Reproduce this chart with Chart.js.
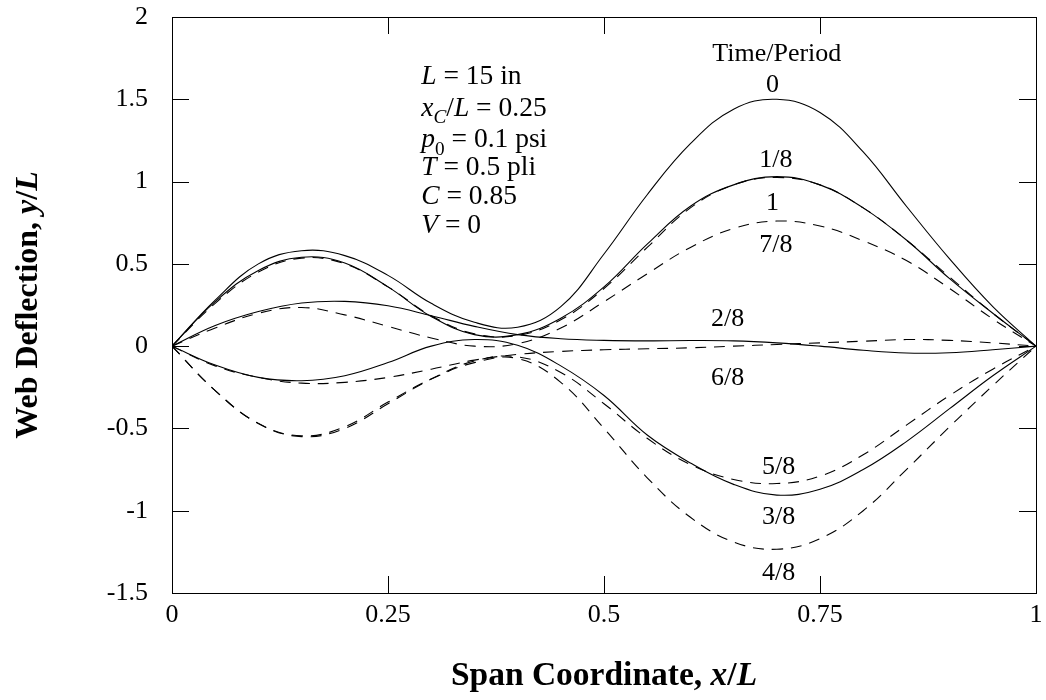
<!DOCTYPE html>
<html><head><meta charset="utf-8">
<script src="https://cdn.jsdelivr.net/npm/chart.js@4.4.1/dist/chart.umd.min.js"></script>
<style>html,body{margin:0;padding:0;background:#fff;}#wrap{width:1046px;height:700px;}</style>
</head><body><div id="wrap"><canvas id="c" width="1046" height="700"></canvas></div>
<script>
// ---- data ----
const spanX = [0,0.05,0.1,0.15,0.2,0.25,0.3,0.35,0.4,0.45,0.5,0.55,0.6,0.65,0.7,0.75,0.8,0.85,0.9,0.95,1];
const defl_0   = [0,0.28,0.50,0.58,0.55,0.43,0.26,0.145,0.115,0.24,0.56,0.92,1.23,1.44,1.50,1.42,1.18,0.85,0.53,0.24,0];
const defl_1_8 = [0,0.27,0.46,0.54,0.505,0.36,0.18,0.07,0.07,0.17,0.36,0.62,0.85,0.98,1.03,0.98,0.84,0.645,0.41,0.2,0];
const defl_2_8 = [0,0.125,0.21,0.262,0.272,0.245,0.185,0.12,0.07,0.045,0.035,0.032,0.034,0.032,0.02,0.0,-0.025,-0.042,-0.04,-0.022,0];
const defl_3_8 = [0,-0.115,-0.19,-0.21,-0.18,-0.1,0.0,0.04,0.005,-0.12,-0.3,-0.54,-0.71,-0.84,-0.905,-0.87,-0.75,-0.58,-0.38,-0.18,0];
const defl_4_8 = [0,-0.27,-0.47,-0.545,-0.49,-0.34,-0.2,-0.1,-0.075,-0.22,-0.5,-0.8,-1.04,-1.19,-1.234,-1.17,-1.0,-0.75,-0.49,-0.24,0];
const defl_5_8 = [0,-0.27,-0.47,-0.55,-0.5,-0.35,-0.2,-0.09,-0.065,-0.16,-0.35,-0.56,-0.72,-0.81,-0.835,-0.79,-0.66,-0.48,-0.3,-0.14,0];
const defl_6_8 = [0,-0.12,-0.19,-0.225,-0.22,-0.19,-0.14,-0.085,-0.05,-0.032,-0.022,-0.016,-0.01,0.0,0.01,0.02,0.03,0.04,0.035,0.02,0];
const defl_7_8 = [0,0.11,0.2,0.235,0.19,0.12,0.05,0.0,0.015,0.11,0.27,0.44,0.6,0.715,0.76,0.73,0.64,0.52,0.35,0.165,0];
const defl_1   = [0,0.26,0.45,0.535,0.5,0.36,0.185,0.075,0.065,0.16,0.35,0.6,0.84,0.98,1.025,0.98,0.84,0.645,0.42,0.2,0];
const timeLabels = ['0','1/8','2/8','3/8','4/8','5/8','6/8','7/8','1'];
const seriesValues = [defl_0,defl_1_8,defl_2_8,defl_3_8,defl_4_8,defl_5_8,defl_6_8,defl_7_8,defl_1];
const xTickValues = [0,0.25,0.5,0.75,1];
const xTickLabels = ['0','0.25','0.5','0.75','1'];
const yTickValues = [-1.5,-1,-0.5,0,0.5,1,1.5,2];
const yTickLabels = ['-1.5','-1','-0.5','0','0.5','1','1.5','2'];

// ---- presentation ----
const FONT = '"Liberation Serif", "Times New Roman", serif';
const dashedSet = new Set(['4/8','5/8','6/8','7/8','1']);
// curve label anchors in data units (centre x, baseline y)
const curveLabelPos = {
  'Time/Period':[0.70,1.734], '0':[0.695,1.544], '1/8':[0.699,1.089], '1':[0.695,0.830],
  '7/8':[0.699,0.572], '2/8':[0.643,0.121], '6/8':[0.643,-0.238],
  '5/8':[0.702,-0.774], '3/8':[0.702,-1.082], '4/8':[0.702,-1.422]
};
const infoLines = [
  [{t:'L',i:1},{t:' = 15 in'}],
  [{t:'x',i:1},{t:'C',i:1,sub:1},{t:'/'},{t:'L',i:1},{t:' = 0.25'}],
  [{t:'p',i:1},{t:'0',sub:1},{t:' = 0.1 psi'}],
  [{t:'T',i:1},{t:' = 0.5 pli'}],
  [{t:'C',i:1},{t:' = 0.85'}],
  [{t:'V',i:1},{t:' = 0'}]
];
const infoX = 0.2885;
const infoBase = [1.591,1.400,1.208,1.041,0.862,0.689];

function fontStr(size, italic, bold){ return (italic?'italic ':'')+(bold?'bold ':'')+size+'px '+FONT; }
function drawRich(ctx, parts, x, y, size, bold, align){
  let w = 0;
  const m = parts.map(p=>{ const s = p.sub? size*0.7 : size; ctx.font = fontStr(s,p.i,bold||p.b); const ww = ctx.measureText(p.t).width; w += ww; return {p,s,ww}; });
  let cx = align==='center' ? x - w/2 : x;
  ctx.textAlign = 'left'; ctx.textBaseline = 'alphabetic';
  m.forEach(o=>{ ctx.font = fontStr(o.s,o.p.i,bold||o.p.b); ctx.fillText(o.p.t, cx, y + (o.p.sub? size*0.27:0)); cx += o.ww; });
}

const decor = {
  id:'decor',
  afterDatasetsDraw(chart){
    const {ctx, chartArea:a, scales:{x,y}} = chart;
    ctx.save();
    ctx.strokeStyle = '#000'; ctx.lineWidth = 1;
    ctx.strokeRect(Math.round(a.left)+0.5, Math.round(a.top)+0.5, Math.round(a.right-a.left), Math.round(a.bottom-a.top));
    const TL = 17;
    ctx.beginPath();
    xTickValues.forEach(v=>{ const px = Math.round(x.getPixelForValue(v))+0.5;
      ctx.moveTo(px,a.bottom); ctx.lineTo(px,a.bottom-TL); ctx.moveTo(px,a.top); ctx.lineTo(px,a.top+TL); });
    yTickValues.forEach(v=>{ const py = Math.round(y.getPixelForValue(v))+0.5;
      ctx.moveTo(a.left,py); ctx.lineTo(a.left+TL,py); ctx.moveTo(a.right,py); ctx.lineTo(a.right-TL,py); });
    ctx.stroke();
    ctx.fillStyle = '#000';
    Object.keys(curveLabelPos).forEach(k=>{ const [vx,vy]=curveLabelPos[k];
      drawRich(ctx,[{t:k}], x.getPixelForValue(vx), y.getPixelForValue(vy), 26, false, 'center'); });
    infoLines.forEach((ln,i)=> drawRich(ctx, ln, x.getPixelForValue(infoX), y.getPixelForValue(infoBase[i]), 27.5, false, 'left'));
    drawRich(ctx,[{t:'Span Coordinate, '},{t:'x',i:1},{t:'/'},{t:'L',i:1}], (a.left+a.right)/2, 685, 33.5, true, 'center');
    ctx.translate(37,(a.top+a.bottom)/2); ctx.rotate(-Math.PI/2);
    drawRich(ctx,[{t:'Web Deflection, '},{t:'y',i:1},{t:'/'},{t:'L',i:1}], 0, 0, 32, true, 'center');
    ctx.restore();
  }
};

const datasets = timeLabels.map((lab,k)=>({
  label: lab,
  data: spanX.map((xv,i)=>({x:xv, y:seriesValues[k][i]})),
  borderColor:'#000', borderWidth:1.1, borderDash: dashedSet.has(lab)?[11,8]:[],
  pointRadius:0, pointHoverRadius:0, pointBorderWidth:0, pointHitRadius:0,
  tension:0.4, fill:false
}));

new Chart(document.getElementById('c'), {
  type:'line',
  data:{datasets},
  options:{
    responsive:false, animation:false, devicePixelRatio:1,
    layout:{padding:{top:17,right:10,left:0,bottom:0}},
    plugins:{legend:{display:false}, tooltip:{enabled:false}},
    events:[],
    scales:{
      x:{type:'linear', min:0, max:1,
        ticks:{stepSize:0.25, autoSkip:false, maxRotation:0, padding:7, color:'#000', font:{family:FONT,size:26},
          callback:(v)=>{const i=xTickValues.indexOf(v); return i>=0?xTickLabels[i]:'';}},
        grid:{display:false, drawTicks:false}, border:{display:false},
        afterFit(s){ s.height = 107; s.paddingLeft = 0; s.paddingRight = 0; s.paddingTop = 0; s.paddingBottom = 0; }},
      y:{type:'linear', min:-1.5, max:2,
        ticks:{stepSize:0.5, autoSkip:false, padding:24, color:'#000', font:{family:FONT,size:26},
          callback:(v)=>{const i=yTickValues.indexOf(v); return i>=0?yTickLabels[i]:'';}},
        grid:{display:false, drawTicks:false}, border:{display:false},
        afterFit(s){ s.width = 172; s.paddingTop = 0; s.paddingBottom = 0; s.paddingLeft = 0; s.paddingRight = 0; }}
    }
  },
  plugins:[decor]
});
</script></body></html>
